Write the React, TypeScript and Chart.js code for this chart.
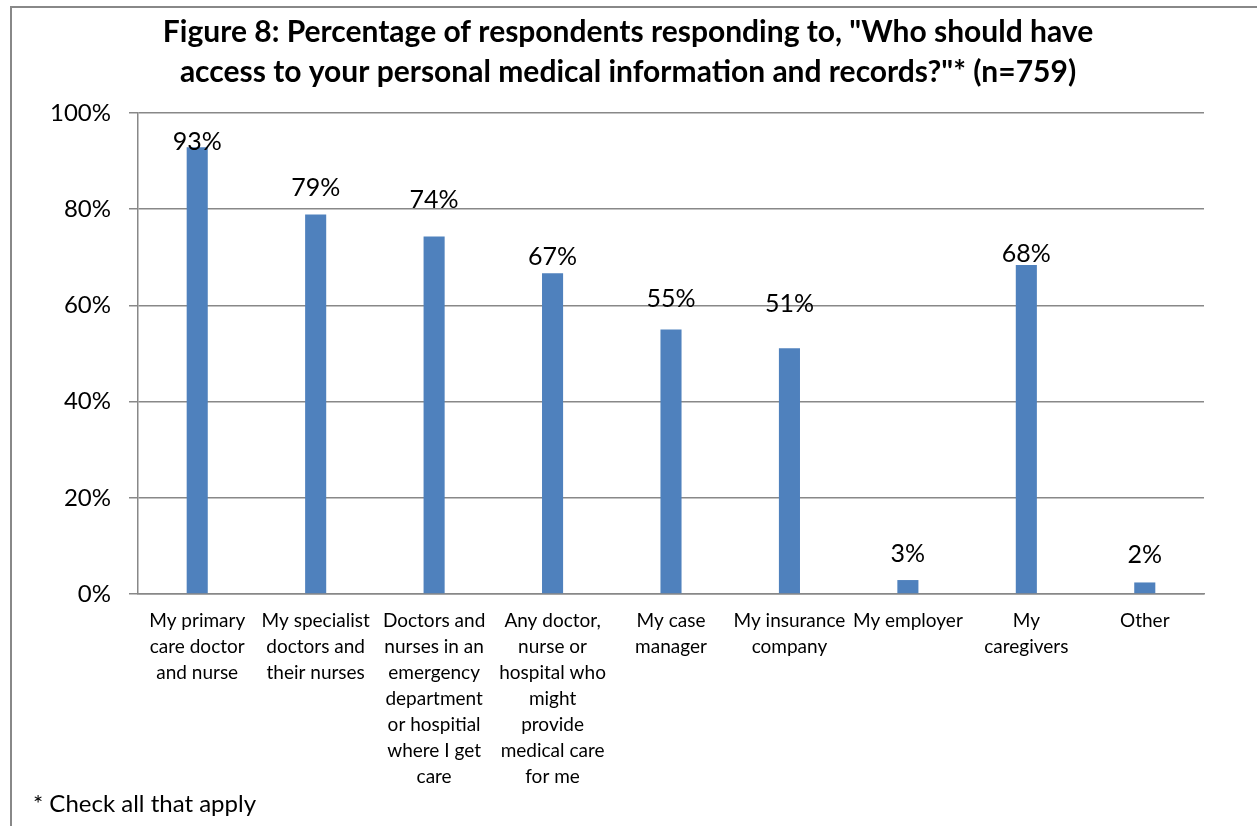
import React, { useEffect, useRef } from "react";
import { Chart, registerables } from "chart.js";

Chart.register(...registerables);

const titleLines = [
  'Figure 8: Percentage of respondents responding to, "Who should have',
  'access to your personal medical information and records?"* (n=759)',
];

const categories: string[][] = [
  ["My primary", "care doctor", "and nurse"],
  ["My specialist", "doctors and", "their nurses"],
  ["Doctors and", "nurses in an", "emergency", "department", "or hospitial", "where I get", "care"],
  ["Any doctor,", "nurse or", "hospital who", "might", "provide", "medical care", "for me"],
  ["My case", "manager"],
  ["My insurance", "company"],
  ["My employer"],
  ["My", "caregivers"],
  ["Other"],
];

const percentValues = [92.9, 78.9, 74.3, 66.7, 55.0, 51.1, 2.9, 68.4, 2.4];

// vertical level (in % units) where each data label sits, as placed in the original
const labelLevels = [94.0, 84.4, 81.9, 70.0, 61.3, 60.3, 8.3, 70.7, 8.1];

const yTicks = [0, 20, 40, 60, 80, 100];

const footnote = "* Check all that apply";

const FONT = "Lato, 'Open Sans', sans-serif";

export default function App() {
  const canvasRef = useRef<HTMLCanvasElement | null>(null);

  useEffect(() => {
    const canvas = canvasRef.current;
    if (!canvas) return;

    const textPlugin = {
      id: "texts",
      afterDatasetsDraw(chart: any) {
        const ctx = chart.ctx;
        const meta = chart.getDatasetMeta(0);
        const yScale = chart.scales.y;
        ctx.save();
        ctx.font = `25px ${FONT}`;
        ctx.fillStyle = "#000";
        ctx.textAlign = "center";
        ctx.textBaseline = "middle";
        meta.data.forEach((bar: any, i: number) => {
          const y = yScale.getPixelForValue(labelLevels[i]);
          ctx.fillText(Math.round(percentValues[i]) + "%", bar.x, y);
        });
        ctx.restore();
      },
      afterDraw(chart: any) {
        const ctx = chart.ctx;
        ctx.save();
        ctx.fillStyle = "#000";
        ctx.textBaseline = "middle";
        // title
        ctx.font = `bold 30px ${FONT}`;
        ctx.textAlign = "center";
        titleLines.forEach((line, i) => {
          ctx.fillText(line, 628, 32 + i * 40);
        });
        // footnote
        ctx.font = `24px ${FONT}`;
        ctx.textAlign = "left";
        ctx.fillText(footnote, 33, 804);
        ctx.restore();
      },
    };

    const chart = new Chart(canvas, {
      type: "bar",
      data: {
        labels: categories,
        datasets: [
          {
            data: percentValues,
            backgroundColor: "#4F81BD",
            borderWidth: 0,
            barPercentage: 0.178,
            categoryPercentage: 1,
          },
        ],
      },
      options: {
        responsive: false,
        animation: false,
        layout: { padding: { left: 0, right: 53, top: 113, bottom: 0 } },
        plugins: {
          legend: { display: false },
          tooltip: { enabled: false },
          title: { display: false },
        },
        scales: {
          x: {
            grid: { display: false, drawTicks: false },
            border: { display: true, color: "#888888", width: 1.5 },
            ticks: {
              color: "#000",
              font: { family: FONT, size: 19, lineHeight: "26px" },
              padding: 14,
              autoSkip: false,
              maxRotation: 0,
              minRotation: 0,
            },
            afterFit(scale: any) {
              scale.height = 232;
            },
          },
          y: {
            min: 0,
            max: 100,
            afterBuildTicks(scale: any) {
              scale.ticks = yTicks.map((v) => ({ value: v }));
            },
            grid: {
              color: "#888888",
              lineWidth: 1.5,
              drawTicks: true,
              tickLength: 9,
            },
            border: { display: true, color: "#888888", width: 1.5 },
            ticks: {
              color: "#000",
              font: { family: FONT, size: 24 },
              padding: 18,
              callback: (v: any) => v + "%",
            },
            afterFit(scale: any) {
              scale.width = 138;
            },
          },
        },
      },
      plugins: [textPlugin],
    });

    return () => chart.destroy();
  }, []);

  return (
    <div
      style={{
        position: "absolute",
        left: 0,
        top: 0,
        width: 1257,
        height: 826,
        overflow: "hidden",
        background: "#fff",
      }}
    >
      <div
        style={{
          position: "absolute",
          left: 10,
          top: 6,
          width: 1300,
          height: 900,
          border: "2px solid #888888",
          boxSizing: "border-box",
        }}
      />
      <canvas
        ref={canvasRef}
        width={1257}
        height={826}
        style={{ position: "absolute", left: 0, top: 0, display: "block" }}
      />
    </div>
  );
}
